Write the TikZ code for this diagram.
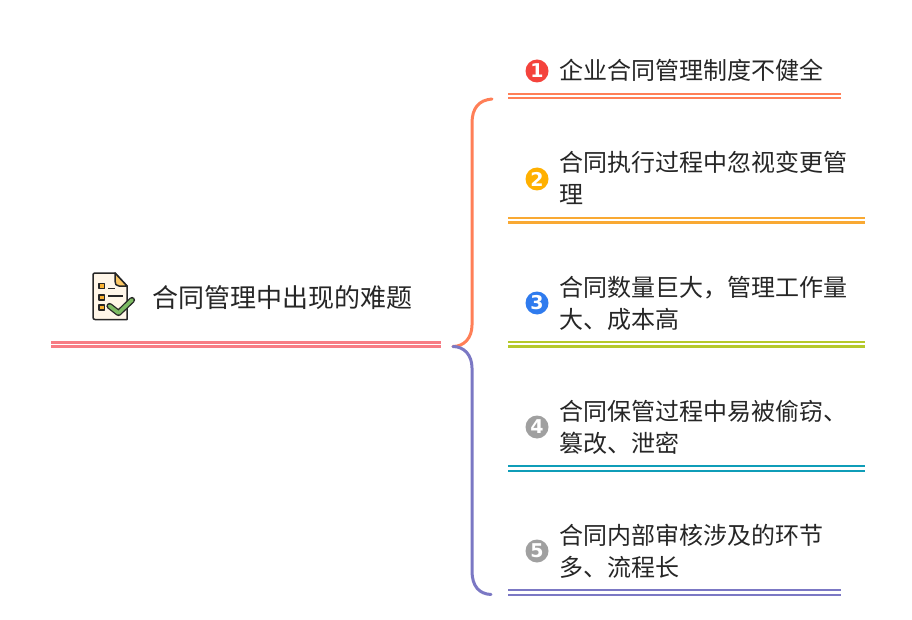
\documentclass[tikz,border=0pt]{standalone}
\usepackage{fontspec}
\setmainfont{Noto Sans CJK SC}
\newfontfamily\digitfont{DejaVu Sans}
\usetikzlibrary{calc}
\definecolor{cRoot}{HTML}{F77C84}
\definecolor{cOrange}{HTML}{FF7F57}
\definecolor{cYellow}{HTML}{F9A933}
\definecolor{cGreen}{HTML}{B5C92B}
\definecolor{cTeal}{HTML}{0F9DB8}
\definecolor{cPurple}{HTML}{7B78C4}
\definecolor{bRed}{HTML}{F4433C}
\definecolor{bYellow}{HTML}{FFB000}
\definecolor{bBlue}{HTML}{2F7BEE}
\definecolor{bGray}{HTML}{A0A0A0}
\definecolor{inkc}{HTML}{262626}
\definecolor{paper}{HTML}{FFF6E8}
\definecolor{tickgreen}{HTML}{7DBB63}
\definecolor{foldc}{HTML}{FBC765}
\definecolor{boxc}{HTML}{F9B233}
\tikzset{
  x=1pt,y=-1pt,
  rule/.style={line width=2.2pt},
  rootrule/.style={line width=3pt},
  brace/.style={line width=3pt,line cap=round},
  label/.style={inner sep=0pt,anchor=base west,text=inkc,font=\fontsize{24}{32}\selectfont,align=left},
  rootlabel/.style={inner sep=0pt,anchor=base west,text=inkc,font=\fontsize{26}{32}\selectfont},
  badge/.style={circle,minimum size=23pt,inner sep=0pt,text=white,font=\digitfont\fontsize{19}{19}\selectfont\bfseries},
}
\begin{document}
\begin{tikzpicture}
\useasboundingbox (0,0) rectangle (912,620);
\fill[white] (0,0) rectangle (912,620);

% root underline
\coordinate (rootL) at (51,344.6);
\coordinate (rootR) at (441,344.6);
\draw[rootrule,cRoot] ($(rootL)+(0,-2.3)$) -- ($(rootR)+(0,-2.3)$);
\draw[rootrule,cRoot] ($(rootL)+(0,2.3)$) -- ($(rootR)+(0,2.3)$);

% branch underlines
\foreach \n/\y/\xe/\c in {a/96.2/841/cOrange,b/220.3/865/cYellow,c/344.3/865/cGreen,d/468.4/865/cTeal,e/592.5/841/cPurple}{
  \coordinate (u\n L) at (508,\y);
  \coordinate (u\n R) at (\xe,\y);
  \draw[rule,\c] ($(u\n L)+(0,-2.2)$) -- ($(u\n R)+(0,-2.2)$);
  \draw[rule,\c] ($(u\n L)+(0,2.2)$) -- ($(u\n R)+(0,2.2)$);
}

% braces
\coordinate (fork) at (453,346.5);
\coordinate (top) at (492,99);
\coordinate (bot) at (491,594.5);
\draw[brace,cOrange] (fork) .. controls (464,346.5) and (472,338) .. (472,325) -- (472,123) .. controls (472,108) and (479,100) .. (top);
\draw[brace,cPurple] (fork) .. controls (464,346.5) and (472,355) .. (472,368) -- (472,571) .. controls (472,586) and (479,594) .. (bot);

% texts
\node[rootlabel] (root) at (152,307) {合同管理中出现的难题};
\node[label] (t1) at (559,80) {企业合同管理制度不健全};
\node[label] (t2a) at (559,172) {合同执行过程中忽视变更管};
\node[label] (t2b) at (559,204) {理};
\node[label] (t3a) at (559,296) {合同数量巨大，管理工作量};
\node[label] (t3b) at (559,328) {大、成本高};
\node[label] (t4a) at (559,420) {合同保管过程中易被偷窃、};
\node[label] (t4b) at (559,452) {篡改、泄密};
\node[label] (t5a) at (559,544) {合同内部审核涉及的环节};
\node[label] (t5b) at (559,576) {多、流程长};

% badges
\node[badge,fill=bRed] (b1) at (537,71) {1};
\node[badge,fill=bYellow] (b2) at (537,179) {2};
\node[badge,fill=bBlue] (b3) at (537,303) {3};
\node[badge,fill=bGray] (b4) at (537,427) {4};
\node[badge,fill=bGray] (b5) at (537,551) {5};

% document icon
\begin{scope}[line width=1.5pt,draw=inkc,line join=round]
\path[fill=paper,draw=inkc] (95,273) -- (115,273) -- (127,286) -- (127,319.5) -- (95,319.5) .. controls (93.5,319.5) and (93,318.5) .. (93,317) -- (93,275) .. controls (93,274) and (93.5,273) .. (95,273) -- cycle;
\path[fill=foldc,draw=inkc] (115,273) -- (127,286) -- (119,286) .. controls (116,286) and (115,284) .. (115,281) -- cycle;
\foreach \yy in {286,297.5,307.5}{
  \path[fill=boxc,draw=inkc] (99,\yy-2.5) rectangle (104.5,\yy+2.5);
}
\draw (108,288.5) -- (115,288.5);
\draw (108,296) -- (123,296);
\end{scope}
\draw[line width=6.2pt,inkc,line cap=round,line join=round] (109.5,306) -- (118.5,313) -- (132,300);
\draw[line width=3.6pt,tickgreen,line cap=round,line join=round] (109.5,306) -- (118.5,313) -- (132,300);
\end{tikzpicture}
\end{document}
